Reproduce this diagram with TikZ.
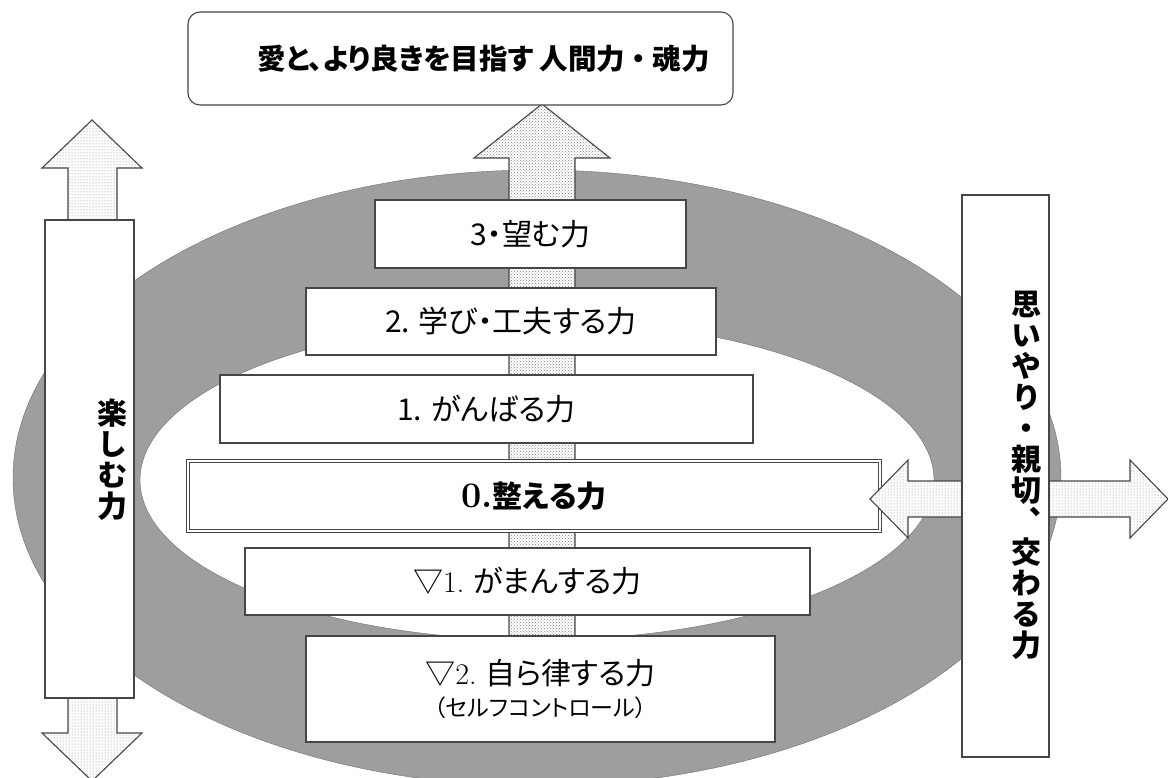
\documentclass[tikz,border=0pt]{standalone}
\usepackage{fontspec}
\newfontfamily\jp[RawFeature=+palt]{Noto Sans CJK JP}
\newfontfamily\jpv[RawFeature=+vert]{Noto Sans CJK JP}
\usetikzlibrary{patterns, positioning}
\definecolor{ringgray}{RGB}{158,158,158}
\definecolor{edgegray}{RGB}{70,70,70}

\begin{document}
\begin{tikzpicture}[x=1pt, y=-1pt,
  pbox/.style = {draw=edgegray, fill=white, line width=1.1pt, inner sep=0, align=center,
    font=\jp\fontsize{30}{34}\selectfont},
  sidebox/.style = {draw=edgegray, fill=white, line width=1.1pt, inner sep=0},
  vtext/.style = {align=center, inner sep=0, font=\jpv\bfseries\fontsize{30}{31}\selectfont},
  dotarrow/.style = {draw=edgegray, line width=1.1pt, preaction={fill=white},
    pattern=dots, pattern color=gray},
  xdotarrow/.style = {draw=edgegray, line width=1.1pt, preaction={fill=white},
    pattern=crosshatch dots, pattern color=gray},
  ]
  \clip (0,0) rectangle (1168,777);
  % ring
  \fill[ringgray, draw=ringgray!70!black, even odd rule]
    (537,478) ellipse [x radius=524, y radius=308]
    (537,480) ellipse [x radius=397, y radius=160];
  % arrow up the middle
  \draw[xdotarrow] (509,640) -- (509,158) -- (474,158) -- (542,104) -- (610,158)
    -- (575,158) -- (575,640) -- cycle;

  \node[pbox, minimum width=311, minimum height=68] (want) at (530.5,234) {3・望む力};
  \node[pbox, minimum width=410, minimum height=67] (learn) at (511,321.5) {2. 学び・工夫する力};
  \node[pbox, minimum width=533, minimum height=68] (try) at (486.5,409) {1. がんばる力};
  \node[pbox, minimum width=692, minimum height=70, double=white, double distance=2.2pt,
    line width=0.9pt, font=\jp\bfseries\fontsize{30}{34}\selectfont] (order) at (534,496)
    {{\rmfamily\bfseries\fontsize{36}{36}\selectfont 0.}整える力};
  \node[pbox, minimum width=565, minimum height=67] (bear) at (527.5,581.5)
    {▽{\rmfamily 1.} がまんする力};
  \node[pbox, minimum width=469, minimum height=106] (self) at (540.5,689)
    {▽{\rmfamily 2.} 自ら律する力\\[-2pt]{\fontsize{23}{26}\selectfont （セルフコントロール）}};

  \node[pbox, minimum width=545, minimum height=93, rounded corners=12,
    font=\jp\bfseries\fontsize{28.5}{32}\selectfont] (aim) at (460.5,58.5)
    {\hspace*{46pt}愛と、より良きを目指す\ 人間力\ ・\ 魂力};

  % enjoying, up and down
  \draw[dotarrow] (92,120) -- (142,168) -- (117,168) -- (117,733) -- (142,733) -- (92,781)
    -- (42,733) -- (68,733) -- (68,168) -- (42,168) -- cycle;
  \node[sidebox, minimum width=89, minimum height=478] (enjoy) at (89.5,459) {};
  \node[vtext] (enjoytxt) at (112,460) {楽\\し\\む\\力};

  % caring, left and right
  \draw[dotarrow] (870,499) -- (908,460) -- (908,481) -- (1130,481) -- (1130,460) -- (1168,499)
    -- (1130,538) -- (1130,517) -- (908,517) -- (908,538) -- cycle;
  \node[sidebox, minimum width=87, minimum height=562] (care) at (1005.5,476) {};
  \node[vtext] (caretxt) at (1026,475) {思\\い\\や\\り\\・\\親\\切\\、\\交\\わ\\る\\力};
\end{tikzpicture}
\end{document}
